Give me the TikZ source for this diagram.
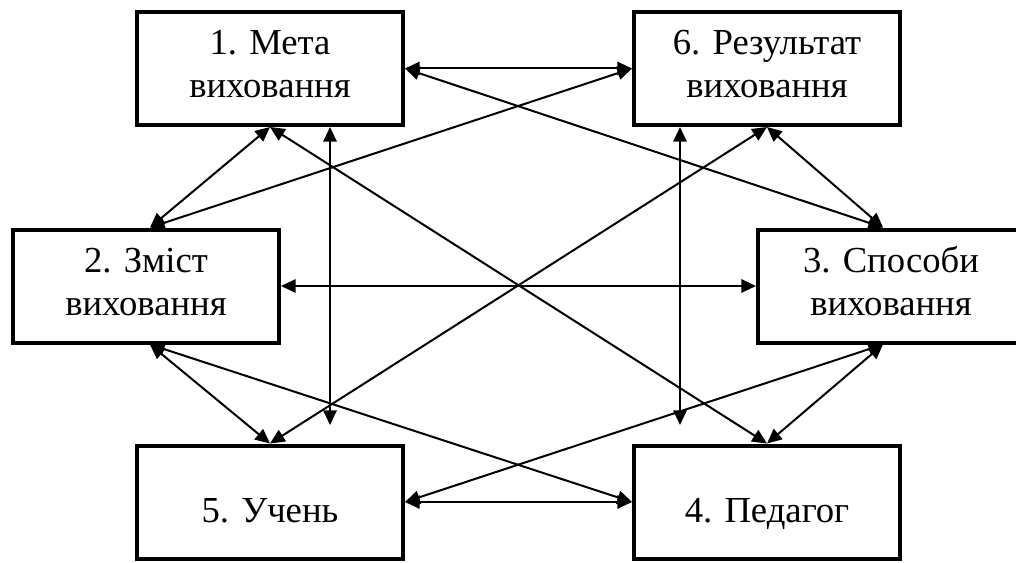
\documentclass[tikz,border=0pt]{standalone}
\usepackage{fontspec}
\setmainfont{Liberation Serif}
\usetikzlibrary{arrows.meta}
\begin{document}
\begin{tikzpicture}[x=0.75pt,y=-0.75pt,
  box/.style={draw, line width=3pt, minimum width=199.5pt, minimum height=84.75pt, inner sep=0pt},
  lbl/.style={anchor=base, font=\fontsize{27.5}{32}\selectfont, inner sep=0pt},
  link/.style={line width=1.5pt, {Triangle[length=11pt,width=10pt]}-{Triangle[length=11pt,width=10pt]}}]
\useasboundingbox (0,0) rectangle (1016,563);
% boxes
\node[box] (b1) at (270,68.5) {};
\node[box] (b6) at (767,68.5) {};
\node[box] (b2) at (146,286) {};
\node[box] (b3) at (891,286) {};
\node[box] (b5) at (270,502) {};
\node[box] (b4) at (767,502) {};
% labels
\node[lbl] (t1a) at (270,55) {1. Мета};
\node[lbl] (t1b) at (270,98) {виховання};
\node[lbl] (t6a) at (767,55) {6. Результат};
\node[lbl] (t6b) at (767,98) {виховання};
\node[lbl] (t2a) at (146,272) {2. Зміст};
\node[lbl] (t2b) at (146,315) {виховання};
\node[lbl] (t3a) at (891,272) {3. Способи};
\node[lbl] (t3b) at (891,315) {виховання};
\node[lbl] (t5) at (270,522) {5. Учень};
\node[lbl] (t4) at (767,522) {4. Педагог};
% free ends of the vertical arrows
\coordinate (v1) at (330,425);
\coordinate (v2) at (680,425);
% connectors
\draw[link] (b1.east) -- (b6.west);
\draw[link] (b1.east) -- ([xshift=-6pt]b3.north);
\draw[link] (b6.west) -- ([xshift=3pt]b2.north);
\draw[link] (b1.south) -- ([xshift=3pt]b2.north);
\draw[link] (b1.south) -- (b4.north);
\draw[link] ([xshift=45pt]b1.south) -- (v1);
\draw[link] ([xshift=-65.25pt]b6.south) -- (v2);
\draw[link] (b6.south) -- (b5.north);
\draw[link] (b6.south) -- ([xshift=-6pt]b3.north);
\draw[link] (b2.east) -- (b3.west);
\draw[link] ([xshift=3pt]b2.south) -- (b5.north);
\draw[link] ([xshift=3pt]b2.south) -- (b4.west);
\draw[link] ([xshift=-6pt]b3.south) -- (b5.east);
\draw[link] ([xshift=-6pt]b3.south) -- (b4.north);
\draw[link] (b5.east) -- (b4.west);
\end{tikzpicture}
\end{document}
